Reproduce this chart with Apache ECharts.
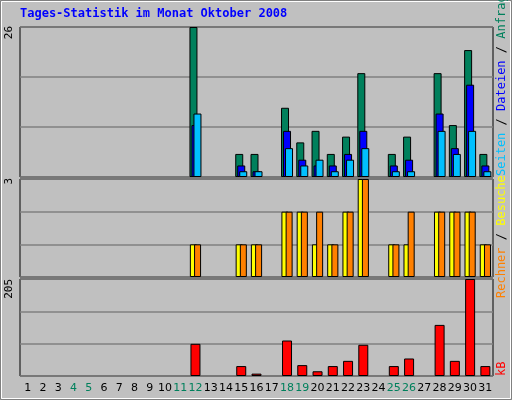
<!DOCTYPE html>
<html><head><meta charset="utf-8">
<script src="https://cdn.jsdelivr.net/npm/echarts@6/dist/echarts.min.js"></script>
<style>html,body{margin:0;padding:0;background:#c0c0c0}#c{width:512px;height:400px}</style>
</head><body><div id="c"></div>
<script>
var days = [];for (var i=1;i<=31;i++) days.push(String(i));
var weekendDays = ['4','5','11','12','18','19','25','26'];
var hits  = [0,0,0,0,0,0,0,0,0,0,0,26,0,0,4,4,0,12,6,8,4,7,18,0,4,7,0,18,9,22,4];
var files = [0,0,0,0,0,0,0,0,0,0,0,9,0,0,2,1,0,8,3,2,2,4,8,0,2,3,0,11,5,16,2];
var pages = [0,0,0,0,0,0,0,0,0,0,0,11,0,0,1,1,0,5,2,3,1,3,5,0,1,1,0,8,4,8,1];
var visits= [0,0,0,0,0,0,0,0,0,0,0,1,0,0,1,1,0,2,2,1,1,2,3,0,1,1,0,2,2,2,1];
var sites = [0,0,0,0,0,0,0,0,0,0,0,1,0,0,1,1,0,2,2,2,1,2,3,0,1,2,0,2,2,2,1];
var kbytes= [0,0,0,0,0,0,0,0,0,0,0,68,0,0,21,5,0,75,23,10,21,32,66,0,21,37,0,108,32,205,21];
var maxHits=26, maxVisits=3, maxKb=205;

var ch = echarts.init(document.getElementById('c'));
var grids=[{left:20,right:19,top:27,height:150},{left:20,right:19,top:179,height:98},{left:20,right:19,top:279,height:97}];
grids.forEach(function(g){g.backgroundColor='#c0c0c0';g.borderColor='#000';g.borderWidth=1;g.show=true;});
function xa(i,lab){return {type:'category',data:days,gridIndex:i,axisLine:{show:false},axisTick:{show:false},
 axisLabel:{show:lab,interval:0,fontFamily:'DejaVu Sans',fontSize:11,margin:7,
  formatter:function(v){return weekendDays.indexOf(v)>=0?'{w|'+v+'}':'{n|'+v+'}';},
  rich:{w:{color:'#00805c',fontFamily:'DejaVu Sans',fontSize:11},n:{color:'#000',fontFamily:'DejaVu Sans',fontSize:11}}}};}
function ya(i,max){return {type:'value',gridIndex:i,min:0,max:max,interval:max/3,axisLabel:{show:false},axisLine:{show:false},axisTick:{show:false},splitLine:{lineStyle:{color:'#808080',width:1.5}}};}
var bs={borderColor:'#000',borderWidth:1};
function nz(a){return a.map(function(v){return v===0?null:v;});}
function s(name,data,col,xi,w,gap){return {type:'bar',name:name,data:nz(data),xAxisIndex:xi,yAxisIndex:xi,barWidth:w,barGap:gap,itemStyle:Object.assign({color:col},bs),silent:true,animation:false};}
var F='12px "DejaVu Sans Mono"';
function lt(y,text){return {type:'text',x:4,y:y,rotation:Math.PI/2,style:{text:text,fill:'#000',font:'11px "DejaVu Sans Mono"',align:'right',verticalAlign:'top'}};}
ch.setOption({
 backgroundColor:'#c0c0c0',
 grid:grids,
 xAxis:[xa(0,false),xa(1,false),xa(2,true)],
 yAxis:[ya(0,maxHits),ya(1,maxVisits),ya(2,maxKb)],
 series:[s('Anfragen',hits,'#00805c',0,8,'-75%'),s('Dateien',files,'#0000ff',0,8,'-75%'),s('Seiten',pages,'#00c0ff',0,8,'-75%'),
   s('Besuche',visits,'#ffff00',1,7,'-40%'),s('Rechner',sites,'#ff8000',1,7,'-40%'),
   s('kB',kbytes,'#ff0000',2,10,'0%')],
 graphic:[
  {type:'rect',shape:{x:0.5,y:0.5,width:511,height:399},style:{fill:'none',stroke:'#808080',lineWidth:1}},
  {type:'rect',shape:{x:1.5,y:1.5,width:509,height:397},style:{fill:'none',stroke:'#fff',lineWidth:1}},
  {type:'text',x:20,y:8,style:{text:'Tages-Statistik im Monat Oktober 2008',fill:'#0000ff',font:'bold 12px "DejaVu Sans Mono"'}},
  lt(26,'26'),lt(178,'3'),lt(279,'205'),
  {type:'text',x:496,y:176,rotation:Math.PI/2,style:{text:'{a|Seiten}{k| / }{b|Dateien}{k| / }{c|Anfragen}',align:'left',verticalAlign:'top',font:F,
   rich:{a:{fill:'#00c0ff',font:F},b:{fill:'#0000ff',font:F},c:{fill:'#00805c',font:F},k:{fill:'#000',font:F}}}},
  {type:'text',x:496,y:298,rotation:Math.PI/2,style:{text:'{a|Rechner}{k| / }{b|Besuche}',align:'left',verticalAlign:'top',font:F,
   rich:{a:{fill:'#ff8000',font:F},b:{fill:'#ffff00',font:F},k:{fill:'#000',font:F}}}},
  {type:'text',x:496,y:376,rotation:Math.PI/2,style:{text:'kB',align:'left',verticalAlign:'top',fill:'#ff0000',font:F}}
 ]
});
</script></body></html>
